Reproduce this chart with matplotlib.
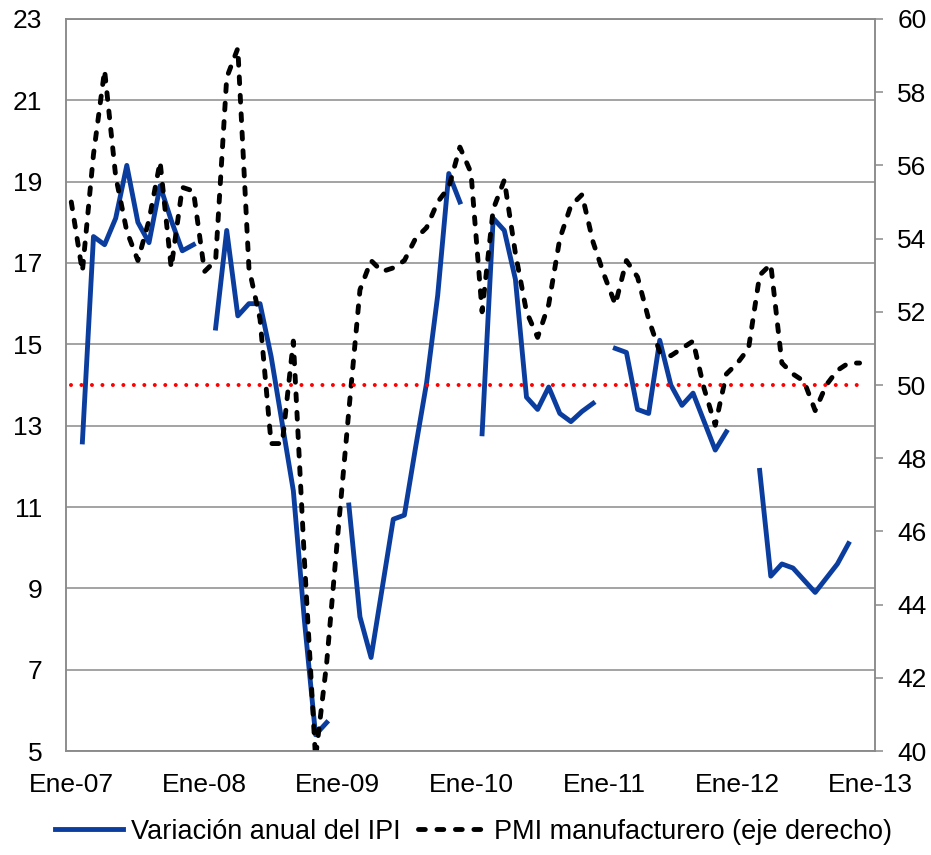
import matplotlib
matplotlib.use('Agg')
import matplotlib.pyplot as plt
import numpy as np

plt.rcParams['font.family'] = ['Liberation Sans', 'DejaVu Sans']

# monthly data, Ene-07 .. Dic-12
nan = np.nan
ipi = [nan, 12.6, 17.65, 17.45, 18.1, 19.4, 18.0, 17.5, 18.9, 18.05, 17.3, 17.45,
       nan, 15.4, 17.8, 15.7, 16.0, 16.0, 14.7, 13.05, 11.4, 8.2, 5.4, 5.7,
       nan, 11.05, 8.3, 7.3, 9.0, 10.7, 10.8, 12.45, 14.05, 16.2, 19.2, 18.5,
       nan, 12.8, 18.1, 17.8, 16.6, 13.7, 13.4, 13.95, 13.3, 13.1, 13.35, 13.55,
       nan, 14.9, 14.8, 13.4, 13.3, 15.1, 14.0, 13.5, 13.8, 13.1, 12.4, 12.85,
       nan, nan, 11.9, 9.3, 9.6, 9.5, 9.2, 8.9, 9.25, 9.6, 10.1, nan]

pmi = [55.0, 53.1, 56.3, 58.6, 55.7, 54.2, 53.4, 54.5, 56.1, 53.2, 55.4, 55.3,
       53.1, 53.4, 58.4, 59.2, 53.2, 51.8, 48.4, 48.4, 51.2, 45.2, 39.8, 42.4,
       45.9, 49.3, 52.6, 53.4, 53.1, 53.2, 53.4, 54.0, 54.3, 55.0, 55.4, 56.5,
       55.8, 52.0, 54.8, 55.6, 53.6, 52.0, 51.3, 52.2, 54.0, 54.9, 55.2, 53.9,
       53.0, 52.2, 53.4, 52.95, 51.8, 50.9, 50.8, 51.0, 51.2, 49.9, 48.9, 50.3,
       50.6, 51.0, 53.0, 53.3, 50.6, 50.3, 50.1, 49.3, 50.0, 50.4, 50.6, 50.6]

umbral = [50.0] * 72

xlabels = ['Ene-07', 'Ene-08', 'Ene-09', 'Ene-10', 'Ene-11', 'Ene-12', 'Ene-13']

gray = '#8a8a8a'
blue = '#0b3d9e'

fig = plt.figure(figsize=(9.31, 8.55), dpi=100)
ax = fig.add_axes([0.0706, 0.1216, 0.8694, 0.8562])
ax2 = ax.twinx()

x = np.arange(len(pmi))
l1, = ax.plot(np.arange(len(ipi)), ipi, color=blue, lw=3.5,
              label='Variación anual del IPI')
l2, = ax2.plot(x, pmi, color='black', lw=3.5, dashes=(1.4, 2.4),
               dash_capstyle='round', label='PMI manufacturero (eje derecho)')
ax2.plot(x, umbral, color='#ff0000', lw=2.9, linestyle=(0, (0.001, 2.6)),
         dash_capstyle='round')

ax.set_xlim(-0.5, 72.4)
ax.set_ylim(5, 23)
ax.set_yticks(np.arange(5, 24, 2))
ax2.set_ylim(40, 60)
ax2.set_yticks(np.arange(40, 61, 2))
ax.set_xticks(np.arange(0, 73, 12))
ax.set_xticklabels(xlabels)

ax.grid(axis='y', color=gray, lw=1.1)
ax.set_axisbelow(True)
for a in (ax, ax2):
    for s in a.spines.values():
        s.set_color(gray)
        s.set_linewidth(1.1)

ax.tick_params(axis='y', length=0, pad=17, labelsize=19)
ax.tick_params(axis='x', length=0, pad=16, labelsize=19)
ax2.tick_params(axis='y', length=6, width=1.1, color=gray, direction='out',
                pad=10, labelsize=19)

fig.legend(handles=[l1, l2], loc='center', bbox_to_anchor=(0.509, 0.027),
           ncol=2, frameon=False, fontsize=19.5, handlelength=2.5,
           handletextpad=0.3, columnspacing=0.65, borderpad=0, borderaxespad=0)

fig.savefig('out.png', dpi=100, facecolor='white')
